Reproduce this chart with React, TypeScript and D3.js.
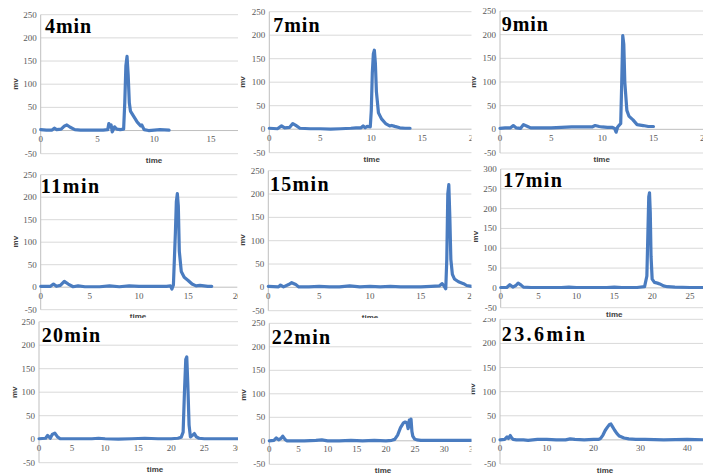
import React from "react";
import * as d3 from "d3";

// Run titles (injection time of each chromatogram)
const TITLES = ["4min", "7min", "9min", "11min", "15min", "17min", "20min", "22min", "23.6min"];

// Retention time (min) and detector response (mV) for each run
const T_4 = [0, 0.5, 1.0, 1.2, 1.4, 1.8, 2.1, 2.3, 2.6, 3.0, 3.5, 4.5, 5.5, 5.9, 6.0, 6.1, 6.2, 6.3, 6.5, 6.7, 7.0, 7.3, 7.4, 7.5, 7.6, 7.7, 7.8, 7.9, 8.2, 8.5, 8.8, 8.9, 9.1, 9.5, 10, 10.5, 11.3];
const V_4 = [2, 1, 1, 5, 2, 3, 10, 12, 7, 2, 1, 1, 1, 2, 15, 8, 12, -3, 8, 3, 2, 3, 60, 140, 160, 120, 60, 42, 30, 18, 10, 12, 2, 0, 1, 2, 1];

const T_7 = [0, 0.8, 1.2, 1.5, 2.0, 2.3, 2.6, 3.0, 4, 5, 6, 7, 8, 8.5, 9.0, 9.2, 9.4, 9.6, 9.9, 10.0, 10.1, 10.2, 10.3, 10.4, 10.5, 10.7, 11.0, 11.4, 11.8, 12.0, 12.3, 12.8, 13.3, 13.8];
const V_7 = [2, 1, 7, 3, 4, 12, 8, 2, 1, 1, 0, 1, 2, 3, 3, 7, 3, 6, 5, 40, 120, 160, 168, 140, 80, 35, 22, 12, 7, 8, 6, 3, 2, 2];

const T_9 = [0, 0.5, 1.0, 1.3, 1.6, 2.0, 2.3, 2.7, 3.0, 4, 5, 6, 7, 8, 9, 9.3, 9.7, 10, 10.5, 11.0, 11.2, 11.35, 11.5, 11.7, 11.8, 11.9, 12.0, 12.1, 12.2, 12.4, 12.6, 13.0, 13.4, 14, 14.5, 15];
const V_9 = [2, 3, 3, 8, 3, 2, 10, 6, 3, 3, 3, 4, 5, 5, 5, 8, 6, 5, 4, 4, 2, -6, 5, 10, 12, 100, 198, 180, 100, 40, 28, 20, 10, 8, 6, 6];

const T_11 = [0, 1.0, 1.3, 1.6, 2.0, 2.4, 2.8, 3.3, 3.8, 4.5, 6, 7, 8, 9, 10, 11, 12, 12.8, 13.2, 13.35, 13.5, 13.7, 13.8, 13.9, 14.0, 14.1, 14.3, 14.6, 15.0, 15.4, 15.8, 16.2, 17.0, 17.4];
const V_11 = [2, 2, 7, 2, 4, 13, 7, 1, 3, 1, 1, 3, 1, 3, 2, 2, 2, 2, 3, -4, 5, 120, 190, 208, 180, 80, 35, 22, 15, 7, 3, 4, 2, 2];

const T_15 = [0, 1.0, 1.2, 1.5, 2.0, 2.3, 2.7, 3.0, 4, 5, 6, 7, 8, 9, 10, 11, 12, 13, 14, 15, 16, 16.8, 17.1, 17.3, 17.45, 17.55, 17.65, 17.75, 17.85, 17.95, 18.1, 18.3, 18.7, 19.2, 19.5, 20, 20.5];
const V_15 = [2, 1, 5, 1, 6, 10, 6, 1, 1, 2, 1, 1, 3, 1, 2, 1, 2, 1, 1, 1, 2, 3, 8, 2, -3, 60, 200, 220, 150, 60, 28, 18, 12, 8, 4, 2, 2];

const T_17 = [0, 0.8, 1.2, 1.6, 2.0, 2.3, 2.7, 3.0, 4, 6, 8, 9, 10, 12, 14, 15, 16, 18, 19.0, 19.3, 19.45, 19.55, 19.65, 19.75, 19.85, 20.0, 20.3, 20.7, 21.0, 21.5, 22, 23, 25, 27, 29];
const V_17 = [1, 1, 8, 2, 6, 12, 7, 2, 1, 1, 1, 2, 1, 1, 1, 2, 1, 1, 3, 30, 150, 230, 240, 190, 80, 22, 14, 12, 10, 5, 3, 2, 1, 1, 1];

const T_20 = [0, 1.0, 1.3, 1.7, 2.0, 2.4, 2.8, 3.2, 4, 6, 8, 9, 10, 12, 14, 16, 18, 20, 21.0, 21.5, 21.8, 22.0, 22.2, 22.35, 22.5, 22.7, 22.9, 23.2, 23.5, 23.8, 24.2, 25, 27, 30, 33, 35];
const V_20 = [1, 2, 8, 2, 10, 13, 5, 1, 1, 1, 1, 2, 1, 0, 1, 2, 1, 1, 2, 4, 15, 100, 170, 175, 120, 30, 5, 8, 12, 5, 2, 1, 1, 1, 1, 1];

const T_22 = [0, 0.8, 1.2, 1.6, 2.0, 2.3, 2.7, 3.0, 4, 6, 8, 9, 10, 12, 14, 16, 18, 20, 21.0, 21.5, 22.0, 22.5, 23.0, 23.3, 23.6, 23.8, 24.0, 24.15, 24.3, 24.45, 24.6, 24.9, 25.3, 26, 28, 30, 33, 36, 40];
const V_22 = [0, 1, 6, 2, 5, 10, 3, 0, 0, 0, 1, 2, 0, 0, 1, 0, 1, 0, 1, 3, 12, 28, 38, 40, 38, 26, 44, 30, 46, 20, 10, 4, 2, 1, 1, 1, 1, 1, 0];

const T_236 = [0, 1.0, 1.5, 1.8, 2.2, 2.5, 2.8, 3.5, 5, 6, 8, 10, 12, 14, 15, 16, 18, 20, 21.0, 21.5, 22.0, 22.5, 23.0, 23.4, 23.7, 24.0, 24.5, 25.0, 25.5, 26.5, 27.5, 29, 31, 35, 40, 45];
const V_236 = [0, 1, 6, 3, 9, 4, 1, 0, 0, -1, 1, 1, 0, 0, 2, 1, 0, 1, 1, 3, 10, 20, 27, 32, 33, 28, 20, 13, 8, 4, 2, 1, 1, 0, 1, 0];

const SERIES_T = [T_4, T_7, T_9, T_11, T_15, T_17, T_20, T_22, T_236];
const SERIES_V = [V_4, V_7, V_9, V_11, V_15, V_17, V_20, V_22, V_236];

// Axis extents per run
const X_MAX = [20, 20, 20, 20, 20, 30, 35, 40, 50];
const X_STEP = [5, 5, 5, 5, 5, 5, 5, 5, 10];
const Y_MIN = -50;
const Y_MAX = [250, 250, 250, 250, 250, 300, 250, 250, 250];
const Y_STEP = 50;

// Panel geometry: clip box, plot pixel extents, label anchors
const LAYOUT = [
  { clip: [0, 0, 238, 163], x0: 40.7, x1: 267.9, yb: 153.7, yt: 14.7, title: [45, 33.3], time: [154, 160], mv: [15, 84] },
  { clip: [238, 0, 233.5, 163], x0: 269.3, x1: 473.3, yb: 152.7, yt: 11.7, title: [273.3, 31.7], time: [371.7, 159], mv: [242, 82] },
  { clip: [471.5, 0, 231.5, 163], x0: 500, x1: 704.6, yb: 153, yt: 11, title: [501.7, 31], time: [601.7, 159], mv: [473.5, 82] },
  { clip: [0, 163, 238, 155], x0: 40.7, x1: 237.3, yb: 309.7, yt: 174.7, title: [40.7, 193.3], time: [138, 316], mv: [15, 241.7] },
  { clip: [238, 163, 233.5, 155], x0: 268.3, x1: 471.7, yb: 310.7, yt: 170.7, title: [270, 190.7], time: [370, 317.7], mv: [242.3, 240] },
  { clip: [471.5, 163, 231.5, 155], x0: 500.7, x1: 727.9, yb: 307.7, yt: 169, title: [503.3, 186.7], time: [614.3, 314], mv: [475, 236.7] },
  { clip: [0, 318, 238, 155], x0: 39, x1: 270.4, yb: 462.7, yt: 321.7, title: [41.7, 341.7], time: [155, 469], mv: [14, 392.3] },
  { clip: [238, 318, 233.5, 155], x0: 269.3, x1: 502.6, yb: 464.3, yt: 323.3, title: [271.7, 344.3], time: [383, 470], mv: [243.3, 395] },
  { clip: [471.5, 318, 231.5, 155], x0: 500, x1: 734, yb: 464, yt: 319.3, title: [501.7, 340.7], time: [605, 470.7], mv: [472.7, 389] },
];

const LINE_COLOR = "#4a7cc0";
const GRID_COLOR = "#d9d9d9";
const AXIS_COLOR = "#bfbfbf";
const TICK_COLOR = "#595959";
const TITLE_CHAR_W = 12.3;

function Panel({ i }: { i: number }) {
  const L = LAYOUT[i];
  const x = d3.scaleLinear().domain([0, X_MAX[i]]).range([L.x0, L.x1]);
  const y = d3.scaleLinear().domain([Y_MIN, Y_MAX[i]]).range([L.yb, L.yt]);
  const [cx, cy, cw, ch] = L.clip;
  const yTicks = d3.range(Y_MIN, Y_MAX[i] + 1, Y_STEP);
  // only labels that at least partly fall inside the panel box
  const xTicks = d3.range(0, X_MAX[i] + 0.001, X_STEP[i]).filter((v) => x(v) - 5 < cx + cw);
  const pts = SERIES_T[i].map((t, k) => [t, SERIES_V[i][k]] as [number, number]);
  const path = d3
    .line<[number, number]>()
    .x((d) => x(d[0]))
    .y((d) => y(d[1]))(pts) as string;
  const id = `clip-${i}`;
  const title = TITLES[i];
  return (
    <g>
      <defs>
        <clipPath id={id}>
          <rect x={cx} y={cy} width={cw} height={ch} />
        </clipPath>
      </defs>
      <g clipPath={`url(#${id})`}>
        {yTicks.map((v) => (
          <line key={`g${v}`} x1={L.x0} x2={L.x1} y1={y(v)} y2={y(v)} stroke={v === 0 ? AXIS_COLOR : GRID_COLOR} strokeWidth={1} />
        ))}
        <line x1={L.x0} x2={L.x0} y1={L.yt} y2={L.yb} stroke={AXIS_COLOR} strokeWidth={1} />
        {yTicks.map((v) => (
          <text key={`y${v}`} x={L.x0 - 4} y={y(v)} textAnchor="end" dominantBaseline="central" fontSize={9} fontFamily="Liberation Serif, serif" fill={TICK_COLOR}>
            {v}
          </text>
        ))}
        {xTicks.map((v) => (
          <text key={`x${v}`} x={x(v)} y={y(0) + 8.5} textAnchor="middle" dominantBaseline="central" fontSize={9} fontFamily="Liberation Serif, serif" fill={TICK_COLOR}>
            {v}
          </text>
        ))}
        <path d={path} fill="none" stroke={LINE_COLOR} strokeWidth={3.2} strokeLinejoin="round" strokeLinecap="round" />
        <text x={L.time[0]} y={L.time[1]} textAnchor="middle" dominantBaseline="central" fontSize={8} fontWeight="bold" fontFamily="Liberation Sans, sans-serif" fill="#404040">
          time
        </text>
        <text transform={`translate(${L.mv[0]},${L.mv[1]}) rotate(-90)`} textAnchor="middle" dominantBaseline="central" fontSize={8} fontWeight="bold" fontFamily="Liberation Sans, sans-serif" fill="#404040">
          mv
        </text>
        <text
          x={L.title[0]}
          y={L.title[1]}
          fontSize={20}
          fontWeight="bold"
          fontFamily="Liberation Serif, serif"
          fill="#000"
          textLength={title.length * TITLE_CHAR_W - 3}
          lengthAdjust="spacing"
        >
          {title}
        </text>
      </g>
    </g>
  );
}

export default function App() {
  return (
    <svg width={703} height={473} style={{ position: "absolute", left: 0, top: 0, background: "#fff" }}>
      <rect width={703} height={473} fill="#fff" />
      {LAYOUT.map((_, i) => (
        <Panel key={i} i={i} />
      ))}
    </svg>
  );
}
